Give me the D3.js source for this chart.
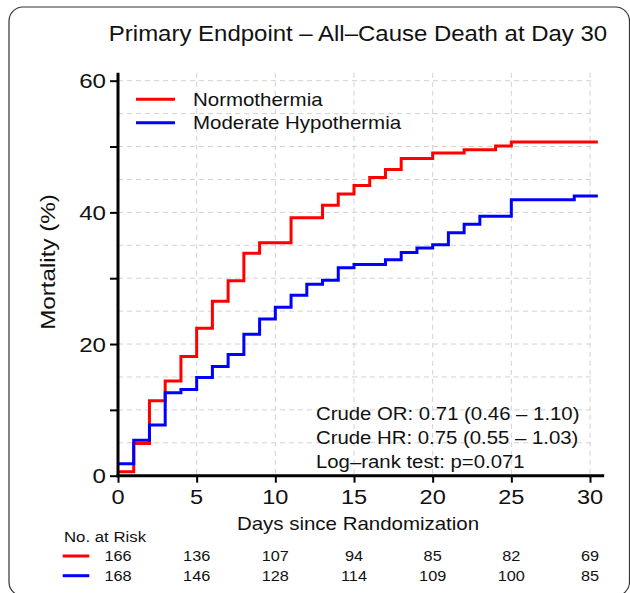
<!DOCTYPE html>
<html>
<head>
<meta charset="utf-8">
<script src="https://cdn.jsdelivr.net/npm/d3@7/dist/d3.min.js"></script>
<style>
  html, body { margin: 0; padding: 0; background: #fff; }
  svg text { font-family: "Liberation Sans", Arial, Helvetica, sans-serif; fill: #111; }
</style>
</head>
<body>
<div id="chart"></div>
<script>
// ---------------- data ----------------
const title = "Primary Endpoint \u2013 All\u2013Cause Death at Day 30";
const xLabel = "Days since Randomization";
const yLabel = "Mortality (%)";
const seriesNames = ["Normothermia", "Moderate Hypothermia"];
const seriesColors = ["#ff0000", "#0000ff"];

const redTimes  = [0, 1, 2, 3, 4, 5, 6, 7, 8, 9, 11, 13, 14, 15, 16, 17, 18, 20, 22, 24, 25, 30.5];
const redValues = [0.6, 4.9, 11.4, 14.4, 18.1, 22.4, 26.5, 29.6, 33.8, 35.4, 39.2, 41.1, 42.8, 44.1, 45.3, 46.5, 48.2, 49.0, 49.5, 50.1, 50.7, 50.7];

const blueTimes  = [0, 1, 2, 3, 4, 5, 6, 7, 8, 9, 10, 11, 12, 13, 14, 15, 17, 18, 19, 20, 21, 22, 23, 25, 29, 30.5];
const blueValues = [1.8, 5.4, 7.7, 12.6, 13.1, 14.9, 16.6, 18.4, 21.5, 23.8, 25.6, 27.4, 29.1, 29.7, 31.6, 32.1, 32.8, 33.9, 34.6, 35.1, 36.9, 38.2, 39.4, 41.9, 42.5, 42.5];

const xTicks = [0, 5, 10, 15, 20, 25, 30];
const yTicks = [0, 10, 20, 30, 40, 50, 60];
const yTickLabels = [0, 20, 40, 60];
const xGrid = [5, 10, 15, 20, 25, 30];
const yGrid = [5, 10, 15, 20, 25, 30, 35, 40, 45, 50, 55, 60];

const riskTimes = [0, 5, 10, 15, 20, 25, 30];
const riskRed  = [166, 136, 107, 94, 85, 82, 69];
const riskBlue = [168, 146, 128, 114, 109, 100, 85];

const statLines = [
  "Crude OR: 0.71 (0.46 \u2013 1.10)",
  "Crude HR: 0.75 (0.55 \u2013 1.03)",
  "Log\u2013rank test: p=0.071"
];

// ---------------- layout ----------------
const W = 630, H = 593;
const svg = d3.select("#chart").append("svg").attr("width", W).attr("height", H);

const x = d3.scaleLinear().domain([0, 30]).range([118, 590]);
const y = d3.scaleLinear().domain([0, 60]).range([475.7, 80.7]);
const xMax = 30.9, yMax = 61.2;
const SX = 1.1;

function txt(parent, px, py, s, size, anchor, sx) {
  return parent.append("text")
    .attr("transform", `translate(${px},${py}) scale(${sx || SX},1)`)
    .attr("text-anchor", anchor || "start")
    .attr("font-size", size)
    .text(s);
}

// frame (partly outside the picture on the right and bottom)
svg.append("rect").attr("x", 9).attr("y", 7).attr("width", 620.5).attr("height", 589)
  .attr("rx", 14).attr("ry", 14).attr("fill", "none").attr("stroke", "#333").attr("stroke-width", 1.2);

// title
txt(svg, 358, 41, title, 21.8, "middle", 1.1);

// grid
const grid = svg.append("g").attr("stroke", "#d2d2d2").attr("stroke-width", 1).attr("stroke-dasharray", "5,4");
grid.selectAll("line.h").data(yGrid).join("line").attr("class", "h")
  .attr("x1", x(0)).attr("x2", x(30) + 3).attr("y1", d => y(d)).attr("y2", d => y(d));
grid.selectAll("line.v").data(xGrid).join("line").attr("class", "v")
  .attr("x1", d => x(d)).attr("x2", d => x(d)).attr("y1", y(yMax)).attr("y2", y(0));

// curves
const line = d3.line().curve(d3.curveStepAfter).x(d => x(d[0])).y(d => y(d[1]));
const redPts = redTimes.map((t, i) => [t, redValues[i]]);
const bluePts = blueTimes.map((t, i) => [t, blueValues[i]]);
svg.append("path").attr("d", line(redPts)).attr("fill", "none").attr("stroke", seriesColors[0]).attr("stroke-width", 3);
svg.append("path").attr("d", line(bluePts)).attr("fill", "none").attr("stroke", seriesColors[1]).attr("stroke-width", 3);

// axes
const xAxis = d3.axisBottom(x).tickValues(xTicks).tickSize(7).tickSizeOuter(0).tickFormat("");
const gx = svg.append("g").attr("transform", `translate(0,${y(0)})`).call(xAxis);
gx.select(".domain").remove();
gx.selectAll(".tick line").attr("stroke", "#000").attr("stroke-width", 2);
gx.append("line").attr("x1", x(0) - 1.5).attr("x2", x(xMax)).attr("y1", 0).attr("y2", 0)
  .attr("stroke", "#000").attr("stroke-width", 3);
xTicks.forEach(t => txt(svg, x(t), 504, String(t), 20.5, "middle", 1.15));

const yAxis = d3.axisLeft(y).tickValues(yTicks).tickSize(8).tickSizeOuter(0).tickFormat("");
const gy = svg.append("g").attr("transform", `translate(${x(0)},0)`).call(yAxis);
gy.select(".domain").remove();
gy.selectAll(".tick line").attr("stroke", "#000").attr("stroke-width", 2);
gy.append("line").attr("x1", 0).attr("x2", 0).attr("y1", y(0) + 1.5).attr("y2", y(yMax))
  .attr("stroke", "#000").attr("stroke-width", 3);
yTickLabels.forEach(t => txt(svg, 106, y(t) + 7.5, String(t), 21, "end", 1.15));

// axis titles
txt(svg, 358, 530, xLabel, 18.6, "middle", 1.1);
svg.append("text")
  .attr("transform", `translate(55,262) rotate(-90) scale(1.18,1)`)
  .attr("text-anchor", "middle").attr("font-size", 20.5).text(yLabel);

// legend
const leg = svg.append("g");
seriesNames.forEach((name, i) => {
  const ly = 99.3 + i * 23.4;
  leg.append("line").attr("x1", 136).attr("x2", 175).attr("y1", ly).attr("y2", ly)
    .attr("stroke", seriesColors[i]).attr("stroke-width", 3);
  txt(leg, 193, ly + 6.5, name, 18.6, "start", 1.1);
});

// stats
statLines.forEach((s, i) => txt(svg, 316, 420 + i * 23.8, s, 18.5, "start", 1.1));

// risk table
txt(svg, 64, 541.7, "No. at Risk", 15.4, "start", 1.09);
[riskRed, riskBlue].forEach((row, r) => {
  const ry = r === 0 ? 556 : 575.7;
  svg.append("line").attr("x1", 62.7).attr("x2", 89.3).attr("y1", ry).attr("y2", ry)
    .attr("stroke", seriesColors[r]).attr("stroke-width", 3);
  row.forEach((v, i) => txt(svg, x(riskTimes[i]), ry + 5.3, String(v), 14.8, "middle", 1.1));
});
</script>
</body>
</html>
